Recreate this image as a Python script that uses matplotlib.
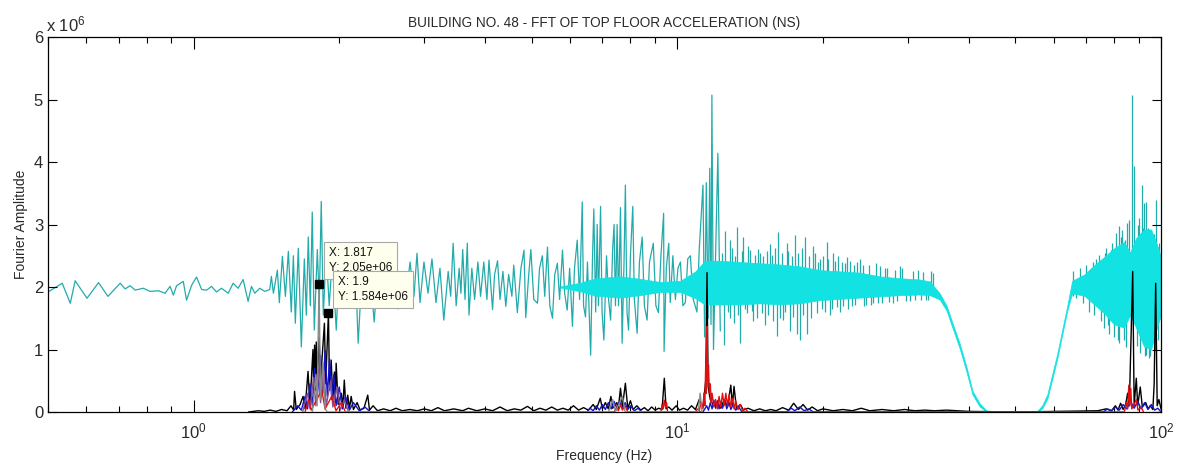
import numpy as np
import matplotlib
matplotlib.use("Agg")
import matplotlib.pyplot as plt
from matplotlib.ticker import LogLocator, NullFormatter, NullLocator, FuncFormatter

plt.rcParams["font.family"] = ["Liberation Sans", "DejaVu Sans"]
plt.rcParams["mathtext.fontset"] = "custom"
plt.rcParams["mathtext.rm"] = "Liberation Sans"
plt.rcParams["mathtext.it"] = "Liberation Sans:italic"
plt.rcParams["mathtext.bf"] = "Liberation Sans:bold"

SCALE = 1e6  # amplitudes below are given in units of 1e6

# ---------------- top floor spectrum (cyan) ----------------
# sparse part of the spectrum, bin by bin: (frequency Hz, amplitude)
top_trace = [
    (0.500, 1.92), (0.535, 2.06), (0.556, 1.74), (0.569, 2.10), (0.602, 1.82),
    (0.636, 2.07), (0.665, 1.85), (0.705, 2.06), (0.722, 1.97), (0.739, 2.02),
    (0.757, 1.95), (0.787, 1.98), (0.813, 1.93), (0.846, 1.94), (0.873, 1.90),
    (0.894, 2.01), (0.908, 1.87), (0.922, 2.02), (0.952, 2.09), (0.967, 1.79),
    (0.991, 2.03), (1.014, 2.16), (1.039, 1.96), (1.064, 1.95), (1.089, 2.01),
    (1.115, 1.92), (1.142, 1.98), (1.179, 1.90), (1.207, 2.06), (1.236, 1.98),
    (1.266, 2.12), (1.296, 1.77), (1.317, 2.01), (1.338, 1.90), (1.370, 1.98),
    (1.403, 1.93), (1.437, 1.96), (1.448, 2.17), (1.462, 1.90), (1.490, 2.27),
    (1.504, 1.75), (1.526, 2.49), (1.548, 1.85), (1.570, 2.57), (1.592, 1.60),
    (1.608, 2.50), (1.623, 1.42), (1.646, 2.62), (1.670, 1.04), (1.694, 2.45),
    (1.710, 1.55), (1.726, 2.80), (1.743, 1.70), (1.759, 3.20), (1.776, 1.31),
    (1.802, 2.60), (1.819, 1.75), (1.836, 3.37), (1.854, 1.55), (1.880, 2.55),
    (1.907, 1.70), (1.935, 2.45), (1.972, 1.31), (2.000, 2.35), (2.038, 1.75),
    (2.077, 2.50), (2.117, 1.80), (2.158, 2.40), (2.189, 1.10), (2.231, 2.30),
    (2.273, 1.80), (2.317, 2.25), (2.362, 1.44), (2.407, 2.30), (2.453, 1.85),
    (2.500, 2.35), (2.548, 1.80), (2.597, 2.30), (2.647, 1.65), (2.697, 2.25),
    (2.749, 1.85), (2.802, 2.40), (2.855, 1.85), (2.896, 2.54), (2.938, 1.75),
    (2.994, 2.40), (3.052, 1.90), (3.110, 2.45), (3.170, 1.75), (3.231, 2.30),
    (3.29, 1.47), (3.36, 2.25), (3.40, 1.85), (3.44, 2.70), (3.49, 1.70),
    (3.54, 2.30), (3.57, 1.90), (3.60, 2.60), (3.64, 1.80), (3.68, 2.70),
    (3.71, 1.55), (3.76, 2.30), (3.81, 1.80), (3.87, 2.40), (3.92, 1.85),
    (3.98, 2.40), (4.04, 1.80), (4.08, 2.43), (4.15, 1.64), (4.19, 2.20),
    (4.25, 2.42), (4.30, 1.80), (4.36, 2.25), (4.42, 1.69), (4.48, 2.20),
    (4.55, 1.85), (4.59, 2.35), (4.67, 1.59), (4.75, 2.30), (4.82, 2.59),
    (4.86, 1.51), (4.93, 2.20), (4.98, 2.60), (5.05, 1.80), (5.14, 1.74),
    (5.19, 2.30), (5.26, 2.50), (5.32, 1.85), (5.39, 2.64), (5.45, 1.70),
    (5.52, 1.50), (5.58, 2.20), (5.65, 2.38), (5.71, 1.80), (5.79, 2.59),
    (5.85, 1.90), (5.92, 1.63), (5.99, 2.30), (6.07, 1.37), (6.13, 2.30),
    (6.21, 2.75), (6.28, 1.80), (6.36, 3.36), (6.40, 1.70), (6.46, 1.52),
    (6.52, 2.40), (6.62, 0.91), (6.68, 2.50), (6.72, 3.25), (6.78, 1.60),
    (6.83, 3.00), (6.87, 1.70), (6.94, 3.29), (6.99, 1.60), (7.05, 1.15),
    (7.14, 2.50), (7.21, 1.80), (7.28, 1.47), (7.35, 2.60), (7.40, 3.00),
    (7.45, 1.70), (7.51, 3.00), (7.56, 1.70), (7.63, 3.27), (7.69, 1.10),
    (7.76, 2.40), (7.81, 3.63), (7.87, 1.60), (7.93, 1.31), (8.00, 2.50),
    (8.09, 3.29), (8.15, 1.80), (8.26, 1.26), (8.35, 2.40), (8.46, 2.80),
    (8.55, 1.70), (8.66, 1.47), (8.76, 2.40), (8.92, 2.70), (9.03, 1.70),
    (9.14, 1.59), (9.25, 2.50), (9.37, 3.18), (9.39, 0.97), (9.49, 2.30),
    (9.60, 2.70), (9.67, 1.75), (9.79, 2.50), (9.91, 1.80), (10.03, 2.30),
    (10.15, 2.40), (10.27, 1.70), (10.39, 1.75), (10.51, 2.45), (10.64, 2.50),
    (10.79, 1.80), (10.98, 1.60), (11.10, 2.60), (11.30, 3.63), (11.39, 1.20),
    (11.48, 3.67), (11.58, 1.50), (11.67, 3.90), (11.74, 1.40), (11.79, 5.07),
    (11.88, 1.00), (12.04, 3.00), (12.13, 4.14), (12.27, 1.30),
]

# dense part of the spectrum: envelope of the overlapping bins
top_band_f = [5.74, 6.31, 6.78, 7.63, 8.39, 9.23, 10.15,
              10.9, 11.4, 12.27, 13.49, 14.83, 16.31, 17.93, 19.72, 21.69, 23.85,
              26.22, 28.83, 31.71, 33.25, 34.87, 36.04, 37.08, 38.34, 39.62, 40.76,
              42.16, 43.58, 45.25, 53.45, 55.5, 56.85, 58.2, 59.6, 61.05, 62.5,
              64.0, 65.5, 69.4, 72.8, 76.3, 80.0, 83.9, 86.3, 88.8, 92.2,
              95.4, 98.1, 100.0]
top_band_lo = [1.99, 1.93, 1.86, 1.83, 1.87, 1.92, 1.92,
               1.82, 1.72, 1.72, 1.72, 1.74, 1.72, 1.74, 1.79, 1.81, 1.83,
               1.85, 1.87, 1.88, 1.87, 1.80, 1.62, 1.34, 1.02, 0.64, 0.28,
               0.09, 0.00, 0.00, 0.00, 0.00, 0.06, 0.21, 0.53, 0.86, 1.24,
               1.62, 1.90, 1.86, 1.72, 1.58, 1.40, 1.35, 1.55, 1.35, 1.05,
               1.00, 1.35, 1.55]
top_band_hi = [2.01, 2.07, 2.14, 2.17, 2.13, 2.08, 2.10,
               2.25, 2.42, 2.42, 2.40, 2.38, 2.36, 2.33, 2.27, 2.25, 2.23,
               2.17, 2.14, 2.12, 2.09, 1.90, 1.70, 1.42, 1.10, 0.72, 0.34,
               0.14, 0.025, 0.005, 0.005, 0.015, 0.11, 0.28, 0.61, 0.94, 1.32,
               1.70, 2.10, 2.20, 2.35, 2.48, 2.62, 2.72, 2.55, 2.78, 2.92,
               2.92, 2.68, 2.48]

# single bins standing out of the dense band: (frequency, from, to)
top_spikes = [
    (12.35, 1.9, 2.55), (12.46, 1.07, 2.0), (12.56, 1.9, 2.90), (12.70, 1.60, 2.0),
    (12.86, 1.50, 2.75), (12.97, 1.9, 2.62), (13.07, 1.42, 2.1), (13.17, 1.9, 2.50),
    (13.28, 1.9, 2.96), (13.38, 1.55, 2.0), (13.49, 1.10, 2.0), (13.60, 1.9, 2.58),
    (13.70, 1.9, 2.80), (13.81, 1.65, 2.0), (13.92, 1.58, 2.1), (14.03, 1.9, 2.66),
    (14.15, 1.9, 2.59), (14.25, 1.62, 2.0), (14.35, 1.45, 2.0), (14.47, 1.9, 2.52),
    (14.60, 1.50, 2.0), (14.71, 1.9, 2.61), (14.83, 1.9, 2.55), (14.95, 1.58, 2.0),
    (15.07, 1.9, 2.49), (15.19, 1.40, 2.0), (15.31, 1.9, 2.57), (15.43, 1.55, 2.0),
    (15.55, 1.9, 2.69), (15.68, 1.9, 2.52), (15.80, 1.45, 2.0), (15.93, 1.9, 2.62),
    (16.06, 1.21, 2.0), (16.18, 1.9, 2.88), (16.31, 1.50, 2.0), (16.44, 1.9, 2.55),
    (16.57, 1.47, 2.0), (16.70, 1.60, 2.0), (16.84, 1.9, 2.70), (16.97, 1.9, 2.58),
    (17.10, 1.30, 2.0), (17.24, 1.9, 2.50), (17.37, 1.52, 2.0), (17.51, 1.9, 2.83),
    (17.68, 1.25, 2.0), (17.80, 1.9, 2.55), (17.93, 1.15, 2.0), (18.07, 1.9, 2.62),
    (18.22, 1.55, 2.0), (18.37, 1.9, 2.80), (18.54, 1.25, 2.0), (18.70, 1.9, 2.50),
    (18.87, 1.50, 2.0), (19.10, 1.9, 2.65), (19.25, 1.9, 2.55), (19.41, 1.58, 2.0),
    (19.57, 1.9, 2.40), (19.72, 1.9, 2.45), (19.88, 1.65, 2.0), (20.04, 1.9, 2.50),
    (20.20, 1.60, 2.0), (20.36, 1.9, 2.72), (20.52, 1.9, 2.45), (20.68, 1.55, 2.0),
    (20.85, 1.65, 2.0), (21.01, 1.9, 2.55), (21.18, 1.9, 2.42), (21.35, 1.68, 2.0),
    (21.52, 1.9, 2.50), (21.69, 1.60, 2.0), (21.86, 1.9, 2.40), (22.03, 1.70, 2.0),
    (22.21, 1.9, 2.38), (22.39, 1.9, 2.48), (22.57, 1.65, 2.0), (22.76, 1.9, 2.42),
    (22.96, 1.70, 2.0), (23.15, 1.9, 2.36), (23.34, 1.72, 2.0), (23.55, 1.9, 2.40),
    (23.85, 1.9, 2.45), (24.15, 1.9, 2.35), (24.34, 1.70, 2.0), (24.54, 1.72, 2.0),
    (24.95, 1.9, 2.36), (25.18, 1.72, 2.0), (25.40, 1.74, 2.0), (25.81, 1.9, 2.38),
    (26.03, 1.75, 2.0), (26.30, 1.9, 2.33), (26.55, 1.75, 2.0), (26.85, 1.9, 2.30),
    (27.15, 1.9, 2.30), (27.45, 1.76, 2.0), (27.89, 1.75, 2.0), (28.20, 1.9, 2.28),
    (28.50, 1.77, 2.0), (28.83, 1.9, 2.33), (29.20, 1.9, 2.30), (29.70, 1.78, 2.0),
    (30.24, 1.78, 2.0), (30.70, 1.9, 2.26), (31.00, 1.80, 2.0), (31.41, 1.9, 2.28),
    (31.90, 1.80, 2.0), (32.20, 1.9, 2.24), (32.62, 1.80, 2.0), (33.00, 1.80, 2.0),
    (33.41, 1.9, 2.25), (33.80, 1.9, 2.22),
    (65.8, 1.85, 2.25), (66.8, 1.82, 2.0), (67.94, 1.9, 2.30), (69.0, 1.75, 2.0),
    (70.0, 1.9, 2.35), (71.07, 1.60, 2.0), (72.2, 1.9, 2.40), (72.8, 1.55, 2.0),
    (73.48, 1.9, 2.45), (74.3, 1.9, 2.52), (75.24, 1.45, 2.0), (76.2, 1.35, 2.0),
    (76.6, 1.9, 2.55), (77.05, 1.9, 2.62), (77.6, 1.40, 2.0), (78.15, 1.25, 2.0),
    (78.7, 1.9, 2.60), (79.28, 1.9, 2.70), (79.8, 1.20, 2.0), (80.68, 1.9, 2.86),
    (81.3, 1.15, 2.0), (81.95, 1.10, 2.98), (82.5, 1.9, 2.80), (83.25, 1.9, 2.91),
    (83.7, 1.15, 2.0), (84.2, 1.9, 2.75), (84.60, 1.04, 2.0), (85.13, 1.9, 3.02),
    (85.94, 1.9, 3.07), (86.5, 1.45, 2.0), (87.30, 1.9, 5.07), (88.01, 1.9, 3.93),
    (89.0, 1.05, 2.0), (89.5, 1.9, 3.00), (90.12, 1.9, 3.10), (90.7, 0.95, 2.0),
    (91.28, 1.9, 3.63), (91.8, 1.9, 2.95), (92.28, 1.9, 3.34), (92.7, 0.90, 2.0),
    (93.03, 0.91, 3.36), (94.0, 1.9, 2.95), (94.50, 0.86, 2.0), (95.0, 0.90, 2.0),
    (95.99, 1.10, 2.0), (96.5, 1.9, 2.85), (97.0, 1.00, 2.0), (97.55, 1.9, 3.39),
    (98.5, 1.15, 2.0), (99.2, 1.9, 2.70),
]

# ---------------- other records (near the zero line) ----------------
black_trace = [
    (1.30, 0.00), (1.36, 0.02), (1.40, 0.01), (1.44, 0.03), (1.48, 0.01),
    (1.52, 0.04), (1.56, 0.02), (1.59, 0.10), (1.61, 0.03), (1.617, 0.33),
    (1.63, 0.04), (1.66, 0.12), (1.684, 0.25), (1.70, 0.05), (1.724, 0.65),
    (1.74, 0.10), (1.765, 1.00), (1.772, 0.30), (1.779, 1.07), (1.786, 0.35),
    (1.793, 1.12), (1.80, 0.40), (1.817, 1.20), (1.83, 0.50), (1.845, 0.90),
    (1.864, 1.42), (1.875, 0.45), (1.900, 1.584), (1.91, 0.35), (1.925, 0.83),
    (1.94, 0.20), (1.955, 0.64), (1.963, 0.15), (1.971, 0.78), (1.99, 0.12),
    (2.02, 0.30), (2.035, 0.08), (2.049, 0.51), (2.065, 0.06), (2.083, 0.27),
    (2.10, 0.05), (2.117, 0.25), (2.14, 0.04), (2.178, 0.15), (2.21, 0.03),
    (2.25, 0.06), (2.291, 0.27), (2.31, 0.03), (2.35, 0.10), (2.40, 0.02),
    (2.47, 0.05), (2.55, 0.02), (2.62, 0.06), (2.70, 0.02), (2.80, 0.04),
    (2.90, 0.02), (3.00, 0.05), (3.10, 0.02), (3.20, 0.07), (3.30, 0.02),
    (3.45, 0.05), (3.60, 0.02), (3.70, 0.06), (3.85, 0.02), (4.00, 0.05),
    (4.15, 0.02), (4.30, 0.08), (4.45, 0.02), (4.60, 0.05), (4.75, 0.03),
    (4.90, 0.09), (5.05, 0.02), (5.20, 0.06), (5.35, 0.03), (5.50, 0.08),
    (5.65, 0.03), (5.80, 0.06), (5.95, 0.03), (6.10, 0.10), (6.25, 0.03),
    (6.40, 0.07), (6.55, 0.03), (6.70, 0.12), (6.80, 0.04), (6.93, 0.22),
    (7.00, 0.05), (7.10, 0.15), (7.20, 0.05), (7.29, 0.25), (7.35, 0.06),
    (7.50, 0.15), (7.55, 0.05), (7.63, 0.38), (7.70, 0.08), (7.81, 0.46),
    (7.90, 0.06), (8.00, 0.18), (8.10, 0.04), (8.25, 0.10), (8.40, 0.03),
    (8.55, 0.07), (8.70, 0.02), (8.85, 0.08), (9.00, 0.03), (9.15, 0.06),
    (9.30, 0.04), (9.40, 0.54), (9.48, 0.05), (9.60, 0.08), (9.75, 0.03),
    (9.95, 0.10), (10.1, 0.03), (10.3, 0.06), (10.5, 0.03), (10.7, 0.10),
    (10.9, 0.04), (11.1, 0.20), (11.3, 0.08), (11.45, 0.50), (11.52, 2.23),
    (11.58, 0.40), (11.7, 0.20), (11.9, 0.10), (12.1, 0.15), (12.3, 0.06),
    (12.5, 0.20), (12.7, 0.08), (12.9, 0.43), (13.0, 0.10), (13.1, 0.41),
    (13.25, 0.06), (13.5, 0.12), (13.7, 0.03), (14.0, 0.06), (14.4, 0.02),
    (14.8, 0.05), (15.2, 0.02), (15.6, 0.04), (16.0, 0.02), (16.5, 0.07),
    (17.0, 0.03), (17.4, 0.14), (17.8, 0.04), (18.2, 0.12), (18.6, 0.03),
    (19.0, 0.08), (19.5, 0.02), (20.0, 0.05), (21.0, 0.02), (22.0, 0.04),
    (23.0, 0.02), (24.0, 0.06), (25.0, 0.02), (26.5, 0.04), (28.0, 0.02),
    (29.5, 0.04), (31.0, 0.02), (32.5, 0.03), (34.0, 0.02), (36.0, 0.03),
    (40.0, 0.01), (50.0, 0.00), (60.0, 0.01), (70.0, 0.02), (74.0, 0.02),
    (77.0, 0.05), (79.0, 0.02), (80.5, 0.10), (81.5, 0.03), (82.5, 0.14),
    (83.5, 0.04), (84.5, 0.12), (85.3, 0.30), (86.0, 0.10), (87.4, 2.25),
    (88.0, 0.10), (88.9, 0.54), (89.5, 0.10), (90.6, 0.40), (91.5, 0.08),
    (93.0, 0.15), (94.0, 0.05), (95.0, 0.10), (96.2, 0.04), (96.8, 0.45),
    (97.5, 2.06), (98.2, 0.10), (99.0, 0.20), (100.0, 0.05),
]

grey_trace = [
    (1.76, 0.00), (1.79, 0.60), (1.80, 0.10), (1.817, 2.05), (1.83, 0.20),
    (1.85, 0.80), (1.87, 0.05), (1.89, 0.00),
    (7.20, 0.00), (7.35, 0.20), (7.45, 0.00), (7.70, 0.25), (7.80, 0.00),
    (11.05, 0.00), (11.15, 0.30), (11.25, 0.00),
]

blue_trace = [
    (1.60, 0.00), (1.64, 0.10), (1.67, 0.03), (1.70, 0.25), (1.72, 0.05),
    (1.74, 0.45), (1.76, 0.10), (1.78, 0.70), (1.80, 0.20), (1.83, 0.90),
    (1.85, 0.30), (1.87, 0.99), (1.89, 0.25), (1.91, 0.85), (1.93, 0.20),
    (1.95, 0.60), (1.97, 0.10), (2.00, 0.40), (2.03, 0.05), (2.06, 0.25),
    (2.10, 0.03), (2.14, 0.15), (2.20, 0.02), (2.26, 0.08), (2.32, 0.00),
    (6.50, 0.00), (6.60, 0.06), (6.70, 0.02), (6.80, 0.10), (6.90, 0.03),
    (7.00, 0.12), (7.10, 0.04), (7.20, 0.15), (7.30, 0.05), (7.40, 0.17),
    (7.50, 0.06), (7.60, 0.17), (7.70, 0.05), (7.80, 0.15), (7.90, 0.04),
    (8.00, 0.10), (8.15, 0.02), (8.30, 0.06), (8.45, 0.00),
    (11.30, 0.00), (11.50, 0.10), (11.60, 0.03), (11.70, 0.15), (11.80, 0.05),
    (11.90, 0.19), (12.00, 0.06), (12.10, 0.18), (12.20, 0.05), (12.30, 0.17),
    (12.40, 0.06), (12.55, 0.19), (12.65, 0.05), (12.80, 0.15), (12.90, 0.04),
    (13.05, 0.12), (13.20, 0.03), (13.40, 0.08), (13.60, 0.00),
    (16.8, 0.00), (17.2, 0.06), (17.5, 0.02), (17.9, 0.08), (18.3, 0.02),
    (18.7, 0.05), (19.1, 0.00),
    (76.0, 0.00), (77.5, 0.05), (79.0, 0.02), (80.5, 0.08), (82.0, 0.03),
    (83.5, 0.12), (85.0, 0.05), (86.5, 0.17), (88.0, 0.06), (89.5, 0.17),
    (91.0, 0.05), (92.5, 0.15), (94.0, 0.04), (95.5, 0.12), (97.0, 0.03),
    (98.5, 0.06), (100.0, 0.00),
]

purple_trace = [
    (1.68, 0.00), (1.72, 0.30), (1.74, 0.05), (1.77, 0.55), (1.79, 0.10),
    (1.81, 0.70), (1.83, 0.15), (1.86, 0.65), (1.88, 0.10), (1.92, 0.50),
    (1.94, 0.08), (1.98, 0.40), (2.01, 0.03), (2.05, 0.20), (2.09, 0.00),
]

red_trace = [
    (1.70, 0.00), (1.73, 0.20), (1.75, 0.03), (1.84, 0.35), (1.87, 0.05),
    (1.93, 0.25), (1.97, 0.02), (2.02, 0.15), (2.06, 0.00),
    (7.40, 0.00), (7.50, 0.08), (7.55, 0.02), (7.65, 0.12), (7.70, 0.03),
    (7.80, 0.10), (7.90, 0.00),
    (9.25, 0.00), (9.30, 0.12), (9.35, 0.05), (9.40, 0.19), (9.45, 0.08),
    (9.50, 0.15), (9.55, 0.00),
    (10.9, 0.00), (11.0, 0.05), (11.1, 0.02), (11.2, 0.15), (11.3, 0.05),
    (11.35, 0.30), (11.4, 0.10), (11.45, 0.78), (11.48, 0.30), (11.52, 1.37),
    (11.56, 0.50), (11.6, 0.75), (11.65, 0.30), (11.7, 0.45), (11.75, 0.15),
    (11.8, 0.30), (11.9, 0.08), (12.0, 0.20), (12.1, 0.05), (12.2, 0.25),
    (12.3, 0.08), (12.4, 0.30), (12.5, 0.10), (12.6, 0.30), (12.7, 0.10),
    (12.8, 0.28), (12.9, 0.08), (13.0, 0.22), (13.1, 0.05), (13.2, 0.18),
    (13.35, 0.04), (13.5, 0.12), (13.65, 0.02), (13.8, 0.06), (14.0, 0.00),
    (84.0, 0.00), (84.8, 0.15), (85.3, 0.05), (85.8, 0.43), (86.2, 0.10),
    (86.6, 0.38), (87.0, 0.05), (88.0, 0.12), (88.9, 0.20), (89.6, 0.03),
    (91.0, 0.08), (92.0, 0.00),
]

# data cursors placed on the first-mode peaks
tip_x = [1.817, 1.9]
tip_y = [2.05e6, 1.584e6]

y_ticks = [0, 1, 2, 3, 4, 5, 6]

# ---------------- drawing ----------------
TEAL = "#22abab"
CORE = "#12e2e2"
TXT = "#2a2a2a"

fig = plt.figure(figsize=(11.79, 4.69), dpi=100)
ax = fig.add_axes([48 / 1179, 57 / 469, 1113 / 1179, 375 / 469])


def xy(trace):
    arr = np.array(trace, dtype=float)
    return arr[:, 0], arr[:, 1] * SCALE


# protruding bins first, dense core on top so only their tips show
f, a = xy(top_trace)
ax.plot(f, a, color=TEAL, lw=0.9, zorder=1)
sp = np.array(top_spikes, dtype=float)
ax.vlines(sp[:, 0], sp[:, 1] * SCALE, sp[:, 2] * SCALE, color=TEAL, lw=0.9, zorder=1)
ax.fill_between(top_band_f, np.array(top_band_lo) * SCALE,
                np.array(top_band_hi) * SCALE, color=CORE, lw=0.5,
                edgecolor=CORE, zorder=2)

for trace, col in [(black_trace, "black"), (blue_trace, "#1414c8"),
                   (purple_trace, "#8e4f8e"), (red_trace, "#e01010"),
                   (grey_trace, "#8a8a8a")]:
    f, a = xy(trace)
    ax.plot(f, a, color=col, lw=1.0, zorder=3)

ax.plot(tip_x, tip_y, "s", color="black", ms=6, zorder=8)
for i, (tx, ty) in enumerate(zip(tip_x, tip_y)):
    ax.annotate(f"X: {tx:.4g}\nY: {ty:.4g}", xy=(tx, ty), xytext=(10, 10),
                textcoords="offset pixels", ha="left", va="bottom",
                fontsize=8.5, linespacing=1.35, color="#111111",
                bbox=dict(boxstyle="square,pad=0.42", fc="#ffffee", ec="#a8a8a8", lw=0.8),
                zorder=10 + i)

ax.set_xscale("log")
ax.set_xlim(0.5, 100)
ax.set_ylim(0, 6 * SCALE)

ax.xaxis.set_major_locator(LogLocator(base=10, numticks=10))
ax.xaxis.set_minor_locator(LogLocator(base=10, subs=np.arange(2, 10), numticks=20))
ax.xaxis.set_minor_formatter(NullFormatter())
ax.set_yticks([v * SCALE for v in y_ticks])
ax.yaxis.set_major_formatter(FuncFormatter(lambda v, p: f"{v / SCALE:g}"))
ax.yaxis.set_minor_locator(NullLocator())

ax.tick_params(axis="x", which="major", direction="in", length=8.6, width=0.8,
               top=True, pad=7, labelsize=12, labelcolor=TXT)
ax.tick_params(axis="x", which="minor", direction="in", length=4.5, width=0.8, top=True)
ax.tick_params(axis="y", which="major", direction="in", length=6.5, width=0.8,
               right=True, pad=3.5, labelsize=12, labelcolor=TXT)
for s in ax.spines.values():
    s.set_linewidth(0.9)

ax.set_title("BUILDING NO. 48 - FFT OF TOP FLOOR ACCELERATION (NS)",
             fontsize=9.8, pad=7, color=TXT)
ax.set_xlabel("Frequency (Hz)", fontsize=10, color=TXT, labelpad=5.5)
ax.set_ylabel("Fourier Amplitude", fontsize=10, color=TXT, labelpad=4)

fig.text(46 / 1179, 1 - 31.7 / 469, r"x $\mathdefault{10^{6}}$", fontsize=12,
         ha="left", va="baseline", color=TXT)

fig.savefig("out.png", dpi=100, facecolor="white")
